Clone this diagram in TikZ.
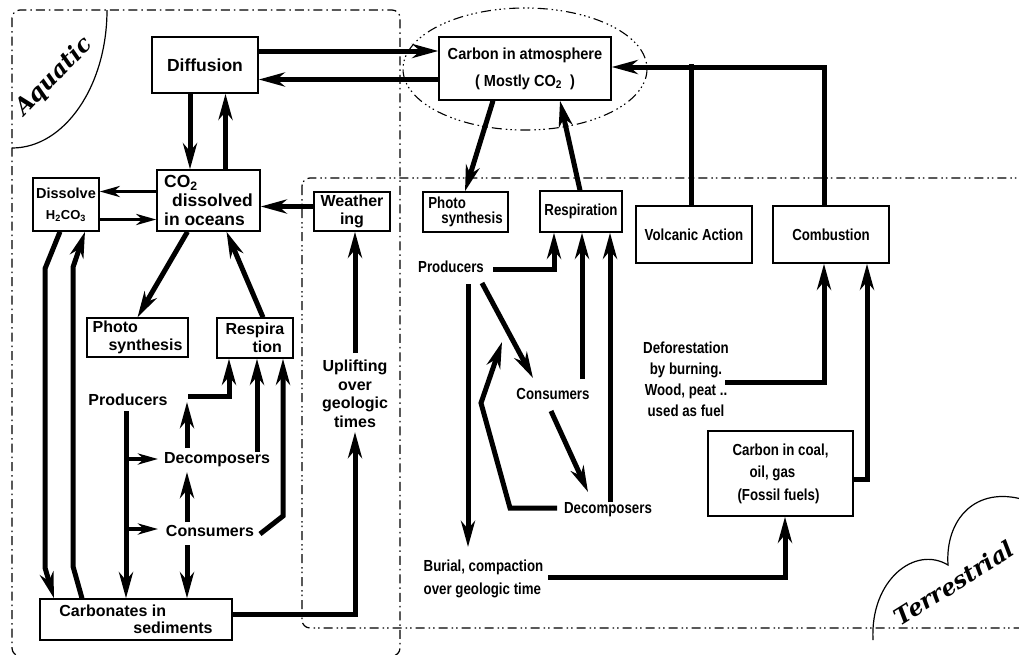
\documentclass[tikz,border=0pt]{standalone}
\usepackage{fontspec}
\setmainfont{Liberation Sans}
\newfontfamily\schmal{Liberation Sans}[FakeStretch=0.83]
\newfontfamily\mittel{Liberation Sans}[FakeStretch=0.91]
\newfontfamily\zierschrift{DejaVu Serif}
\usetikzlibrary{arrows.meta}

\begin{document}
\begin{tikzpicture}[
      x=1pt, y=-1pt,
      kasten/.style={draw=black, fill=white, line width=1.4pt, inner sep=2pt, align=center},
      marke/.style={inner sep=1pt, align=center},
      pfeil/.style={line width=5pt, -{Stealth[length=26pt,width=14pt,inset=8pt]}},
      pfeilfein/.style={line width=3.5pt, -{Stealth[length=20pt,width=11pt,inset=6pt]}},
      strang/.style={line width=5pt},
      grenzeA/.style={line width=1.2pt, rounded corners=8pt, dash pattern=on 9pt off 4pt on 1.5pt off 4pt},
      grenzeT/.style={line width=1.2pt, rounded corners=8pt, dash pattern=on 9pt off 4pt on 1.5pt off 3pt on 1.5pt off 4pt},
      huelle/.style={line width=1.1pt, dash pattern=on 10pt off 4pt on 1.5pt off 3pt on 1.5pt off 3pt on 1.5pt off 4pt},
      aqua/.style={font={\fontsize{16}{17.5}\selectfont\bfseries}},
      terra/.style={font={\schmal\fontsize{16}{21}\selectfont\bfseries}},
      bereich/.style={font={\zierschrift\fontsize{23}{25}\selectfont\bfseries\itshape}}
    ]
    % Bildformat 1019 x 654, y-Achse nach unten
    \useasboundingbox (0,0) rectangle (1019,654);
    \clip (0,0) rectangle (1019,654);

    % ---------- Bereichsgrenzen ----------
    \draw[grenzeA] (12,10) rectangle (400,656);
    \draw[grenzeT] (302,178) rectangle (1030,628);
    \draw[line width=1.2pt] (107,10) .. controls (107,86) and (64.5,148) .. (12,148);
    \draw[line width=1.2pt] (873,640) .. controls (870,580) and (915,545) .. (948,565)
                            .. controls (945,520) and (975,485) .. (1025,500);
    \node[bereich, rotate=46] (aquatic) at (54,77) {Aquatic};
    \node[bereich, rotate=32] (terrestrial) at (954,583) {Terrestrial};

    % ---------- Atmosphaere ----------
    \draw[huelle] (525,69) ellipse [x radius=122, y radius=61];
    \node[kasten, minimum width=172pt, minimum height=63pt,
          font={\mittel\fontsize{16}{27}\selectfont\bfseries}] (atm) at (525,68.5)
      {Carbon in atmosphere\\( Mostly CO\textsubscript{2}\ \ )};

    % ---------- aquatischer Kreislauf ----------
    \begin{scope}[aqua]
      \node[kasten, minimum width=106pt, minimum height=56pt,
            font={\fontsize{17.5}{19}\selectfont\bfseries}] (diff) at (205,65) {Diffusion};
      \node[kasten, align=left, minimum width=103pt, minimum height=61pt,
            font={\fontsize{17.5}{19}\selectfont\bfseries}] (co2) at (208.5,200.5)
        {CO\textsubscript{2}\\\hspace*{8pt}dissolved\\in oceans};
      \node[kasten, minimum width=66pt, minimum height=53pt,
            font={\fontsize{14.5}{16}\selectfont\bfseries}] (diss) at (66,204.5)
        {Dissolve\\[5pt]{\fontsize{13}{15}\selectfont H\textsubscript{2}CO\textsubscript{3}}};
      \node[kasten, minimum width=76pt, minimum height=39pt] (weath) at (352,211.5) {Weather\\ing};
      \node[kasten, align=left, minimum width=101pt, minimum height=39pt] (aphoto) at (137.5,337.5)
        {Photo\\\hspace*{16pt}synthesis};
      \node[kasten, align=left, minimum width=76pt, minimum height=40pt] (aresp) at (255,338)
        {Respira\\\hspace*{27pt}tion};
      \node[kasten, align=left, minimum width=192pt, minimum height=41pt,
            font={\fontsize{16}{16.5}\selectfont\bfseries}] (carb) at (136,619.5)
        {Carbonates in\\\hspace*{74pt}sediments};
      \node[marke] (aprod) at (128,400) {Producers};
      \node[marke] (adecomp) at (217,460) {Decomposers};
      \node[marke] (acons) at (210,531) {Consumers};
      \node[marke, font={\fontsize{16}{18.5}\selectfont\bfseries}] (uplift) at (355,394)
        {Uplifting\\over\\geologic\\times};
    \end{scope}

    % ---------- terrestrischer Kreislauf ----------
    \begin{scope}[terra]
      \node[kasten, align=left, minimum width=85pt, minimum height=40pt,
            font={\schmal\fontsize{16}{15}\selectfont\bfseries}] (tphoto) at (465.5,212)
        {Photo\\\hspace*{13pt}synthesis};
      \node[kasten, minimum width=82pt, minimum height=41pt] (tresp) at (581,211.5) {Respiration};
      \node[kasten, minimum width=116pt, minimum height=57pt] (volc) at (694,234.5) {Volcanic Action};
      \node[kasten, minimum width=116pt, minimum height=57pt] (comb) at (831,234.5) {Combustion};
      \node[kasten, align=left, minimum width=145pt, minimum height=85pt,
            font={\schmal\fontsize{16}{22.5}\selectfont\bfseries}] (coal) at (780.5,473.5)
        {Carbon in coal,\\\hspace*{17pt}oil, gas\\\hspace*{5pt}(Fossil fuels)};
      \node[marke] (tprod) at (451,267) {Producers};
      \node[marke] (tcons) at (553,394) {Consumers};
      \node[marke] (tdecomp) at (608,510) {Decomposers};
      \node[marke] (defor) at (686,379.5) {Deforestation\\by burning.\\Wood, peat ..\\used as fuel};
      \node[marke, align=left, font={\schmal\fontsize{16}{23}\selectfont\bfseries}] (burial)
        at (483.5,578.5) {Burial, compaction\\over geologic time};
    \end{scope}

    % ---------- Pfeile, aquatisch ----------
    \draw[pfeil] ([yshift=14pt]diff.east) -- ([yshift=17.5pt]atm.west);
    \draw[pfeil] ([yshift=-11pt]atm.west) -- ([yshift=-14.5pt]diff.east);
    \draw[pfeil] ([xshift=-15pt]diff.south) -- ([xshift=-18.5pt]co2.north);
    \draw[pfeil] ([xshift=17pt]co2.north) -- ([xshift=20.5pt]diff.south);
    \draw[pfeilfein] ([yshift=9pt]co2.west) -- ([yshift=13pt]diss.east);
    \draw[pfeilfein] ([yshift=-15pt]diss.east) -- ([yshift=-19pt]co2.west);
    \draw[pfeil] ([yshift=5pt]weath.west) -- ([yshift=-6pt]co2.east);
    \draw[pfeil] ([xshift=-21pt]co2.south) -- (aphoto.north);
    \draw[pfeil] ([xshift=8pt]aresp.north) -- ([xshift=18pt]co2.south);
    \draw[pfeil] ([xshift=-6pt]diss.south) -- ++(-15,37) -- ++(0,299) -- ([xshift=-82pt]carb.north);
    \draw[pfeil] ([xshift=-54pt]carb.north) -- ++(-9,-32) -- ++(0,-299) -- ([xshift=19pt]diss.south);
    \draw[pfeil] ([xshift=60pt,yshift=4pt]aprod.center) -| ([xshift=-26pt]aresp.south);
    \draw[pfeil] ([xshift=40pt,yshift=8pt]adecomp.center) -- ([xshift=2pt]aresp.south);
    \draw[pfeil] ([xshift=50pt,yshift=-3pt]acons.center) -- ++(23,-18) -- ([xshift=28pt]aresp.south);
    \draw[pfeil] ([xshift=-2pt,yshift=-11pt]aprod.center) -- ([xshift=-10pt]carb.north);
    \draw[pfeilfein] ([xshift=-91pt,yshift=1pt]adecomp.center) -- ([xshift=-59pt,yshift=1pt]adecomp.center);
    \draw[pfeilfein] ([xshift=-84pt,yshift=2pt]acons.center) -- ([xshift=-52pt,yshift=2pt]acons.center);
    \draw[pfeil] ([xshift=-30pt,yshift=12pt]adecomp.center) -- ([xshift=59pt,yshift=-2pt]aprod.center);
    \draw[pfeil] ([xshift=-23pt,yshift=9pt]acons.center) -- ([xshift=-30pt,yshift=-12pt]adecomp.center);
    \draw[pfeil] ([xshift=-23pt,yshift=-14pt]acons.center) -- ([xshift=51pt]carb.north);
    \draw[pfeil] ([yshift=5.5pt]carb.east) -| ([yshift=-38pt]uplift.center);
    \draw[pfeil] ([yshift=41pt]uplift.center) -- ([xshift=3pt]weath.south);

    % ---------- Pfeile, terrestrisch ----------
    \draw[pfeil] ([xshift=-32pt]atm.south) -- ([xshift=-0.5pt]tphoto.north);
    \draw[pfeil] ([xshift=-1pt]tresp.north) -- ([xshift=35pt]atm.south);
    \draw[strang] ([xshift=-3pt]volc.north) -- ++(0,-141.5);
    \draw[pfeil] ([xshift=-7pt]comb.north) |- ([yshift=1.5pt]atm.east);
    \draw[pfeil] ([xshift=42pt,yshift=-2pt]tprod.center) -| ([xshift=-27pt]tresp.south);
    \draw[pfeil] ([xshift=29pt,yshift=15pt]tcons.center) -- ([xshift=1pt]tresp.south);
    \draw[pfeil] ([xshift=2pt,yshift=8pt]tdecomp.center) -- ([xshift=29pt]tresp.south);
    \draw[pfeil] ([xshift=31pt,yshift=-16pt]tprod.center) -- ([xshift=-20pt,yshift=16pt]tcons.center);
    \draw[pfeil] ([xshift=-2pt,yshift=-17pt]tcons.center) -- ([xshift=-20pt,yshift=18pt]tdecomp.center);
    \draw[pfeil] ([xshift=-51pt,yshift=2pt]tdecomp.center) -- ++(-47,0) -- ++(-29,-105)
                 -- ([xshift=-51pt,yshift=52pt]tcons.center);
    \draw[pfeil] ([xshift=17pt,yshift=-17pt]tprod.center) -- ([xshift=-15.5pt,yshift=31.5pt]burial.center);
    \draw[pfeil] ([xshift=64.5pt,yshift=1.5pt]burial.center) -| ([xshift=4.5pt]coal.south);
    \draw[pfeil] ([xshift=39pt,yshift=-2.5pt]defor.center) -| ([xshift=-7pt]comb.south);
    \draw[pfeil] ([yshift=-5.5pt]coal.east) -| ([xshift=36pt]comb.south);
  \end{tikzpicture}
\end{document}
